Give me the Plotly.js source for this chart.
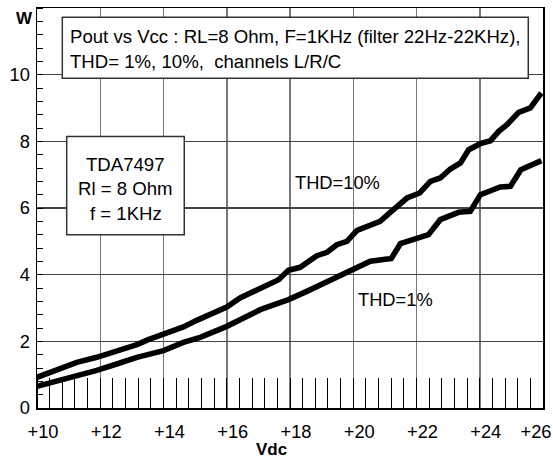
<!DOCTYPE html>
<html>
<head>
<meta charset="utf-8">
<script src="https://cdn.plot.ly/plotly-3.0.1.min.js"></script>
<style>html,body{margin:0;padding:0;background:#fff;}#chart{width:553px;height:463px;}</style>
</head>
<body>
<div id="chart"></div>
<script>
// THD = 10% curve
var vcc10 = [10.0, 10.62, 11.26, 11.89, 12.52, 13.16, 13.52, 14.0, 14.63, 15.05, 15.47, 16.0, 16.42, 17.06, 17.64, 17.95, 18.32, 18.85, 19.17, 19.48, 19.8, 20.12, 20.54, 20.85, 21.17, 21.7, 22.1, 22.44, 22.75, 23.07, 23.39, 23.65, 24.02, 24.34, 24.6, 24.86, 25.23, 25.6, 25.95];
var pout10 = [0.92, 1.13, 1.37, 1.52, 1.70, 1.90, 2.05, 2.20, 2.43, 2.63, 2.80, 3.03, 3.30, 3.60, 3.85, 4.13, 4.22, 4.57, 4.67, 4.90, 5.00, 5.33, 5.47, 5.60, 5.87, 6.30, 6.45, 6.80, 6.90, 7.17, 7.35, 7.75, 7.93, 8.02, 8.30, 8.50, 8.87, 9.00, 9.45];
// THD = 1% curve
var vcc1 = [10.0, 10.62, 11.26, 11.89, 12.52, 13.16, 14.0, 14.63, 15.16, 15.47, 16.0, 17.06, 17.95, 18.53, 19.17, 19.9, 20.54, 21.07, 21.2, 21.49, 22.02, 22.38, 22.75, 23.33, 23.7, 24.02, 24.65, 24.97, 25.3, 25.95];
var pout1 = [0.65, 0.80, 0.94, 1.13, 1.32, 1.52, 1.72, 1.97, 2.12, 2.25, 2.45, 2.95, 3.25, 3.50, 3.80, 4.13, 4.40, 4.47, 4.48, 4.93, 5.10, 5.20, 5.65, 5.87, 5.90, 6.40, 6.63, 6.65, 7.15, 7.42];

var xTickVals = [10, 12, 14, 16, 18, 20, 22, 24, 26];
var xTickText = ['+10', '+12', '+14', '+16', '+18', '+20', '+22', '+24', '+26'];
var yTickVals = [0, 2, 4, 6, 8, 10];
var yTickText = ['0', '2', '4', '6', '8', '10'];

var titleLine1 = 'Pout vs Vcc : RL=8 Ohm, F=1KHz (filter 22Hz-22KHz),';
var titleLine2 = 'THD= 1%, 10%,  channels L/R/C';
var infoLines = ['TDA7497', 'Rl = 8 Ohm', 'f = 1KHz'];
var seriesLabels = ['THD=10%', 'THD=1%'];

var FONT = 'Liberation Sans, Arial, sans-serif';

// label placement: labels sit a few pixels right of their tick, the last one pulled inside the frame
var pxPerUnit = 506 / 16;
var labelVals = xTickVals.map(function (v, i) {
  return i === xTickVals.length - 1 ? v - 7 / pxPerUnit : v + 6 / pxPerUnit;
});

var traces = [
  {x: vcc10, y: pout10, mode: 'lines', line: {color: '#000', width: 5.6}, hoverinfo: 'skip', showlegend: false},
  {x: vcc1, y: pout1, mode: 'lines', line: {color: '#000', width: 5.6}, hoverinfo: 'skip', showlegend: false},
  {x: xTickVals, y: xTickVals.map(function () { return null; }), xaxis: 'x2', mode: 'lines', hoverinfo: 'skip', showlegend: false}
];

var annotations = [
  {xref: 'x', yref: 'y', x: 10.98, y: 11.14, text: titleLine1, xanchor: 'left', yanchor: 'middle', showarrow: false, font: {size: 18.6}},
  {xref: 'x', yref: 'y', x: 10.98, y: 10.39, text: titleLine2, xanchor: 'left', yanchor: 'middle', showarrow: false, font: {size: 18.6}},
  {xref: 'x', yref: 'y', x: 12.80, y: 7.30, text: infoLines[0], xanchor: 'center', yanchor: 'middle', showarrow: false, font: {size: 18.6}},
  {xref: 'x', yref: 'y', x: 12.80, y: 6.60, text: infoLines[1], xanchor: 'center', yanchor: 'middle', showarrow: false, font: {size: 18.6}},
  {xref: 'x', yref: 'y', x: 12.80, y: 5.85, text: infoLines[2], xanchor: 'center', yanchor: 'middle', showarrow: false, font: {size: 18.6}},
  {xref: 'x', yref: 'y', x: 18.09, y: 6.76, text: seriesLabels[0], xanchor: 'left', yanchor: 'middle', showarrow: false, font: {size: 18.3}},
  {xref: 'x', yref: 'y', x: 20.09, y: 3.25, text: seriesLabels[1], xanchor: 'left', yanchor: 'middle', showarrow: false, font: {size: 18.3}},
  {xref: 'paper', yref: 'paper', x: -0.024, y: 0.9725, text: '<b>W</b>', xanchor: 'center', yanchor: 'middle', showarrow: false, font: {size: 17}},
  {xref: 'paper', yref: 'paper', x: 0.4634, y: -0.1036, text: '<b>Vdc</b>', xanchor: 'center', yanchor: 'middle', showarrow: false, font: {size: 17}}
];

var shapes = [
  {type: 'rect', xref: 'x', yref: 'y', x0: 10.80, x1: 25.535, y0: 9.894, y1: 11.72, fillcolor: '#fff', line: {color: '#333', width: 1.5}, layer: 'above'},
  {type: 'rect', xref: 'x', yref: 'y', x0: 10.939, x1: 14.657, y0: 5.199, y1: 8.144, fillcolor: '#fff', line: {color: '#333', width: 1.5}, layer: 'above'}
];

var layout = {
  width: 553, height: 463,
  margin: {l: 37, r: 10, t: 8, b: 55, pad: 0},
  paper_bgcolor: '#fff', plot_bgcolor: '#fff',
  font: {family: FONT, size: 18, color: '#000'},
  showlegend: false,
  xaxis: {
    range: [10, 26], tickmode: 'array', tickvals: xTickVals, showticklabels: false,
    showgrid: true, gridcolor: '#777', gridwidth: 1.5,
    showline: true, linecolor: '#000', linewidth: 1.5, mirror: true,
    ticks: '', zeroline: false, fixedrange: true,
    minor: {dtick: 0.4, tick0: 10, ticks: 'inside', ticklen: 30, tickcolor: '#000', tickwidth: 1, showgrid: false}
  },
  xaxis2: {
    overlaying: 'x', anchor: 'y', side: 'bottom',
    range: [10, 26], tickmode: 'array', tickvals: labelVals, ticktext: xTickText,
    showgrid: false, showline: false, zeroline: false, fixedrange: true,
    ticks: 'outside', ticklen: 7, tickcolor: 'rgba(0,0,0,0)',
    tickfont: {size: 18.3}
  },
  yaxis: {
    range: [0, 12], tickmode: 'array', tickvals: yTickVals, ticktext: yTickText,
    showgrid: true, gridcolor: '#444', gridwidth: 1.2,
    showline: true, linecolor: '#000', linewidth: 1.5, mirror: true,
    ticks: '', zeroline: false, fixedrange: true,
    tickfont: {size: 18.3}, ticklabelstandoff: 2,
    minor: {dtick: 0.4, tick0: 0, ticks: 'inside', ticklen: 6, tickcolor: '#000', tickwidth: 1, showgrid: false}
  },
  annotations: annotations,
  shapes: shapes
};

Plotly.newPlot('chart', traces, layout, {staticPlot: true, displayModeBar: false});
</script>
</body>
</html>
